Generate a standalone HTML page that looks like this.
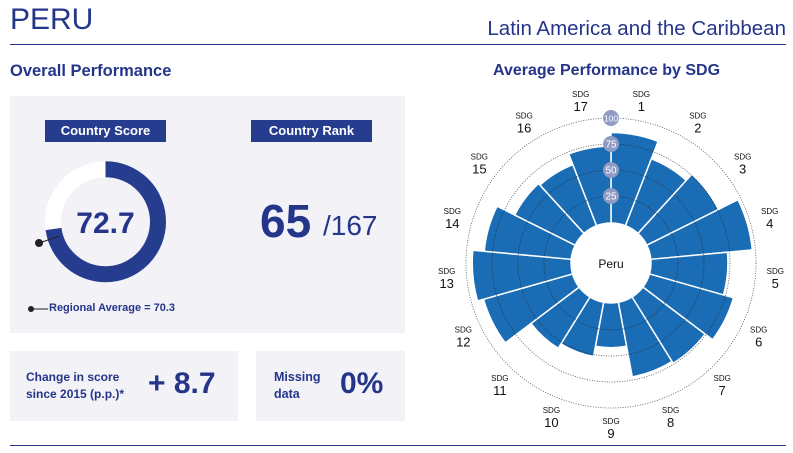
<!DOCTYPE html>
<html><head><meta charset="utf-8"><style>
body{margin:0;width:793px;height:453px;background:#fff;font-family:"Liberation Sans",sans-serif;position:relative;overflow:hidden;color:#24358a}
.a{position:absolute}
.box{position:absolute;background:#f2f2f7}
.lab{position:absolute;background:#263d8f;color:#fff;font-weight:bold;font-size:13px;text-align:center;line-height:22px}
</style></head><body>
<div class="a" style="left:10px;top:3px;font-size:30px;color:#24358a">PERU</div>
<div class="a" style="right:7px;top:17px;font-size:20.5px;color:#24358a">Latin America and the Caribbean</div>
<div class="a" style="left:10px;top:44px;width:776px;height:1px;background:#24358a"></div>
<div class="a" style="left:10px;top:445px;width:776px;height:1px;background:#24358a"></div>
<div class="a" style="left:10px;top:62px;font-size:16.5px;font-weight:bold">Overall Performance</div>
<div class="a" style="left:493px;top:62px;font-size:16px;font-weight:bold">Average Performance by SDG</div>
<div class="box" style="left:10px;top:96px;width:395px;height:237px"></div>
<div class="box" style="left:10px;top:351px;width:228px;height:70px"></div>
<div class="box" style="left:256px;top:351px;width:149px;height:70px"></div>
<div class="lab" style="left:45px;top:120px;width:121px">Country Score</div>
<div class="lab" style="left:251px;top:120px;width:121px">Country Rank</div>
<svg class="a" style="left:0;top:0" width="420" height="340">
<circle cx="105.5" cy="221.7" r="52.5" fill="none" stroke="#fff" stroke-width="16"/>
<circle cx="105.5" cy="221.7" r="52.5" fill="none" stroke="#263d8f" stroke-width="16" stroke-dasharray="239.8 400" transform="rotate(-90 105.5 221.7)"/>
<line x1="39" y1="243" x2="60" y2="236" stroke="#222" stroke-width="1"/>
<circle cx="39" cy="243" r="4" fill="#222"/>
<line x1="31" y1="309" x2="48" y2="309" stroke="#222" stroke-width="1"/>
<circle cx="31" cy="309" r="3" fill="#222"/>
<text x="105.5" y="233" font-size="30" font-weight="bold" text-anchor="middle" fill="#24358a">72.7</text>
</svg>
<div class="a" style="left:49px;top:302px;font-size:11px;font-weight:bold">Regional Average = 70.3</div>
<div class="a" style="left:260px;top:194px;font-size:46px;font-weight:bold">65</div>
<div class="a" style="left:323px;top:210px;font-size:28px">/167</div>
<div class="a" style="left:26px;top:369px;font-size:12px;font-weight:bold;line-height:17px">Change in score<br>since 2015 (p.p.)*</div>
<div class="a" style="left:148px;top:367px;font-size:30px;font-weight:bold">+ 8.7</div>
<div class="a" style="left:274px;top:369px;font-size:12.5px;font-weight:bold;line-height:17px">Missing<br>data</div>
<div class="a" style="left:340px;top:367px;font-size:30px;font-weight:bold">0%</div>
<svg id="p" class="a" style="left:0;top:0" width="793" height="453"></svg>
<script>
var cx=611,cy=263,v=[86,68,76,97,73,83,74,72,42,52,57,88,94,83,64,62,73];
function r(x){return 41+1.04*x}
var s='',n=17,st=2*Math.PI/n;
function pt(rr,a){return [(cx+rr*Math.sin(a)).toFixed(2),(cy-rr*Math.cos(a)).toFixed(2)]}
for(var i=0;i<n;i++){var a0=i*st,a1=(i+1)*st,R=r(v[i]),ri=40;
var p1=pt(ri,a0),p2=pt(R,a0),p3=pt(R,a1),p4=pt(ri,a1);
s+='<path d="M'+p1+'L'+p2+'A'+R+' '+R+' 0 0 1 '+p3+'L'+p4+'A'+ri+' '+ri+' 0 0 0 '+p1+'Z" fill="#1a6cb5" stroke="#fff" stroke-width="1.5"/>';}
[25,50,75].forEach(function(x){s+='<circle cx="'+cx+'" cy="'+cy+'" r="'+r(x)+'" fill="none" stroke="#222" stroke-width="0.8" stroke-dasharray="1 1.5" opacity="0.8"/>'});
s+='<circle cx="'+cx+'" cy="'+cy+'" r="145" fill="none" stroke="#555" stroke-width="0.8" stroke-dasharray="1 1.5"/>';
s+='<circle cx="'+cx+'" cy="'+cy+'" r="40" fill="#fff"/>';
s+='<text x="'+cx+'" y="'+(cy+5)+'" font-size="12" text-anchor="middle" fill="#111">Peru</text>';
[25,50,75,100].forEach(function(x){var y=cy-r(x);s+='<circle cx="'+cx+'" cy="'+y+'" r="8" fill="#8f9bc4"/><text x="'+cx+'" y="'+(y+3.5)+'" font-size="'+(x==100?8.5:10)+'" text-anchor="middle" fill="#fff">'+x+'</text>'});
for(var i=0;i<n;i++){var a=(i+0.5)*st,p=pt(165,a);
s+='<text x="'+p[0]+'" y="'+(+p[1]-4)+'" font-size="8" text-anchor="middle" fill="#111">SDG</text><text x="'+p[0]+'" y="'+(+p[1]+10)+'" font-size="13" text-anchor="middle" fill="#111">'+(i+1)+'</text>';}
document.getElementById('p').innerHTML=s;
</script>
</body></html>
